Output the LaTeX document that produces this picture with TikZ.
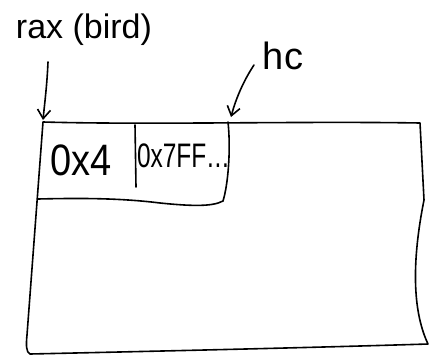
\documentclass[tikz,border=0pt]{standalone}
\usepackage{fontspec}
\setmainfont{Liberation Sans}
\usetikzlibrary{arrows.meta}
\begin{document}
\begin{tikzpicture}[x=1pt,y=-1pt,
  ink/.style={line width=1.6pt,line cap=round,line join=round},
  arr/.style={ink,-{Straight Barb[length=9pt,width=13pt,line width=1.6pt]}},
  hand/.style={inner sep=0pt,font=\fontsize{34}{38}\selectfont}]
\useasboundingbox (0,0) rectangle (438,356);
% labels
\node[hand] (rax) at (84,30) {rax (bird)};
\node[hand,font=\fontsize{38}{42}\selectfont] (hc) at (283,56) {hc};
% outer block
\draw[ink] (43,122) .. controls (150,125) and (300,121) .. (420,123)
  -- (424,200) .. controls (412,260) and (412,310) .. (428,344)
  .. controls (300,348) and (120,352) .. (30,354)
  .. controls (26,352) and (26,345) .. (27,335) -- (43,122);
% inner cell
\draw[ink] (228,122) .. controls (231,150) and (228,185) .. (223,201)
  .. controls (212,207) and (190,206) .. (160,203)
  .. controls (120,198) and (80,198) .. (38,199);
\draw[ink] (135,125) -- (136,187);
\node[hand,font=\fontsize{40}{44}\selectfont] (c1) at (81,160) {\scalebox{0.95}[1.1]{0x4}};
\node[hand] (c2) at (183,156) {\scalebox{0.72}[1]{0x7FF\kern1pt.\kern1pt.\kern1pt.}};
% pointers
\coordinate (raxfrom) at (48,62);
\coordinate (raxto) at (43,120);
\coordinate (hcfrom) at (254,65);
\coordinate (hcto) at (231,117);
\draw[arr] (raxfrom) .. controls (47,85) and (45,100) .. (raxto);
\draw[arr] (hcfrom) .. controls (244,80) and (236,98) .. (hcto);
\end{tikzpicture}
\end{document}
